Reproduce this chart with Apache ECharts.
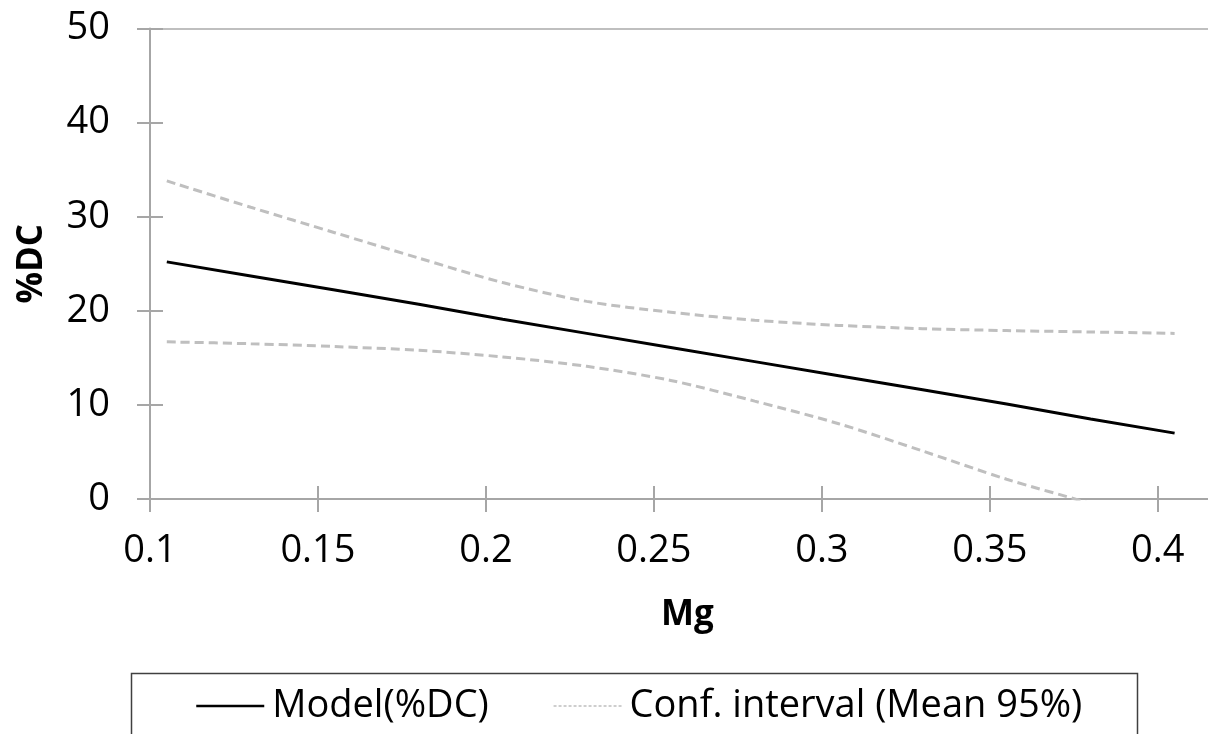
<!DOCTYPE html>
<html>
<head>
    <meta charset="utf-8">
    <script src="https://cdn.jsdelivr.net/npm/echarts@6/dist/echarts.min.js"></script>
    <style>
        html, body { margin: 0; padding: 0; background: #fff; }
        #main { width: 1208px; height: 734px; }
    </style>
</head>
<body>
<div id="main"></div>
<script type="text/javascript">
    // data
    var mg = [0.105, 0.13, 0.155, 0.18, 0.205, 0.23, 0.255, 0.28, 0.305, 0.33, 0.355, 0.38, 0.405];
    var model = [25.2, 23.7, 22.2, 20.7, 19.1, 17.6, 16.1, 14.6, 13.1, 11.6, 10.1, 8.5, 7.0];
    var ciUpper = [33.8, 31.0, 28.3, 25.6, 23.0, 21.0, 19.85, 19.0, 18.45, 18.1, 17.9, 17.75, 17.6];
    var ciLower = [16.7, 16.5, 16.2, 15.8, 15.1, 14.1, 12.6, 10.4, 8.0, 5.1, 2.1, -0.5, -3.5];
    var xTicks = [0.1, 0.15, 0.2, 0.25, 0.3, 0.35, 0.4];
    var yTicks = [0, 10, 20, 30, 40, 50];

    var axisGray = '#a6a6a6';
    var font = '"Open Sans", "Noto Sans", sans-serif';

    function pairs(xs, ys) {
        return xs.map(function (x, i) { return [x, ys[i]]; });
    }

    var myChart = echarts.init(document.getElementById('main'));

    var xBase = { type: 'value', min: 0.1, max: 0.42, interval: 0.05 };
    var yBase = { type: 'value', min: 0, max: 50, interval: 10 };

    var option = {
        animation: false,
        grid: { left: 150, width: 1075, top: 28.5, height: 470.5,
            containLabel: false, outerBoundsMode: 'none' },
        graphic: [{
            type: 'rect',
            shape: { x: 131.5, y: 673.5, width: 1006, height: 100 },
            style: { fill: 'none', stroke: '#404040', lineWidth: 1.5 },
            silent: true
        }],
        legend: {
            left: 190,
            top: 682,
            width: 1000,
            itemWidth: 68,
            itemHeight: 36,
            itemGap: 64,
            itemStyle: { opacity: 0 },
            textStyle: {
                fontFamily: font,
                fontSize: 38,
                color: '#000',
                lineHeight: 36,
                padding: [0, 0, 0, 3]
            },
            data: [
                { name: 'Model(%DC)', lineStyle: { width: 2.5 } },
                { name: 'Conf. interval (Mean 95%)', lineStyle: { width: 1.5, type: [3, 2] } }
            ]
        },
        xAxis: [
            Object.assign({}, xBase, {
                position: 'bottom',
                name: 'Mg',
                nameLocation: 'middle',
                nameGap: 99,
                nameTextStyle: { fontFamily: font, fontSize: 35, fontWeight: 'bold', color: '#000' },
                axisLine: { onZero: false, lineStyle: { color: axisGray, width: 2 } },
                axisTick: { inside: false, length: 13, lineStyle: { color: axisGray, width: 2 },
                    customValues: xTicks },
                axisLabel: { margin: 33, fontFamily: font, fontSize: 38, color: '#000',
                    customValues: xTicks,
                    formatter: function (v) { return String(+v.toFixed(2)); } },
                splitLine: { show: false }
            }),
            Object.assign({}, xBase, {
                position: 'bottom',
                axisLine: { show: false, onZero: false },
                axisTick: { inside: true, length: 13, lineStyle: { color: axisGray, width: 2 },
                    customValues: xTicks },
                axisLabel: { show: false },
                splitLine: { show: false }
            }),
            Object.assign({}, xBase, {
                position: 'top',
                axisLine: { onZero: false, lineStyle: { color: '#bfbfbf', width: 2 } },
                axisTick: { show: false },
                axisLabel: { show: false },
                splitLine: { show: false }
            })
        ],
        yAxis: [
            Object.assign({}, yBase, {
                position: 'left',
                name: '%DC',
                nameLocation: 'middle',
                nameGap: 100,
                nameTextStyle: { fontFamily: font, fontSize: 35, fontWeight: 'bold', color: '#000' },
                axisLine: { show: true, onZero: false, lineStyle: { color: axisGray, width: 2 } },
                axisTick: { show: true, inside: false, length: 13, lineStyle: { color: axisGray, width: 2 },
                    customValues: yTicks },
                axisLabel: { margin: 40, fontFamily: font, fontSize: 38, color: '#000',
                    customValues: yTicks },
                splitLine: { show: false }
            }),
            Object.assign({}, yBase, {
                position: 'left',
                axisLine: { show: false, onZero: false },
                axisTick: { show: true, inside: true, length: 13, lineStyle: { color: axisGray, width: 2 },
                    customValues: yTicks },
                axisLabel: { show: false },
                splitLine: { show: false }
            })
        ],
        series: [
            {
                name: 'Model(%DC)',
                type: 'line',
                data: pairs(mg, model),
                symbol: 'none',
                lineStyle: { color: '#000', width: 3 },
                itemStyle: { color: '#000' }
            },
            {
                name: 'Conf. interval (Mean 95%)',
                type: 'line',
                data: pairs(mg, ciUpper),
                symbol: 'none',
                smooth: 0.3,
                lineStyle: { color: '#bfbfbf', width: 3, type: [9, 5] },
                itemStyle: { color: '#bfbfbf' }
            },
            {
                name: 'Conf. interval (Mean 95%)',
                type: 'line',
                data: pairs(mg, ciLower),
                symbol: 'none',
                smooth: 0.3,
                lineStyle: { color: '#bfbfbf', width: 3, type: [9, 5] },
                itemStyle: { color: '#bfbfbf' }
            }
        ]
    };

    myChart.setOption(option);
</script>
</body>
</html>
